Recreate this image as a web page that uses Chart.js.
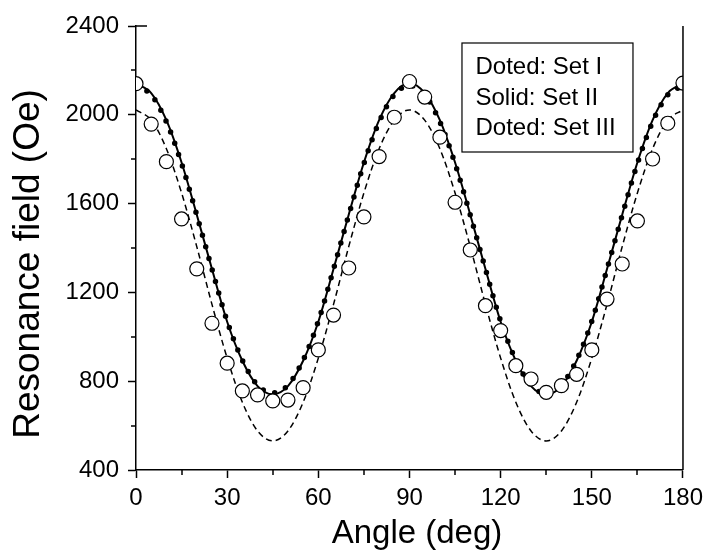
<!DOCTYPE html>
<html>
<head>
<meta charset="utf-8">
<script src="https://cdn.jsdelivr.net/npm/chart.js@4"></script>
<style>
  html, body { margin: 0; padding: 0; background: #fff; }
  canvas { display: block; }
</style>
</head>
<body>
<canvas id="resonanceChart" width="709" height="552"></canvas>
<script>
// angle in degrees, one value every 5 deg
const angles = [0, 5, 10, 15, 20, 25, 30, 35, 40, 45, 50, 55, 60, 65, 70, 75, 80, 85, 90,
    95, 100, 105, 110, 115, 120, 125, 130, 135, 140, 145, 150, 155, 160, 165, 170, 175, 180];

// measured points (open circles)
const measured = [2140, 1958, 1789, 1531, 1306, 1061, 881, 756, 738, 711, 715, 771, 941, 1098, 1310, 1540, 1812, 1989, 2150,
    2080, 1899, 1606, 1391, 1140, 1028, 870, 810, 750, 780, 831, 941, 1170, 1328, 1522, 1801, 1962, 2143];

// fitted curves
const setI = [2130, 2090, 1968, 1780, 1548, 1305, 1070, 895, 782, 748, 782, 895, 1070, 1305, 1548, 1780, 1968, 2090, 2132,
    2090, 1968, 1780, 1548, 1305, 1070, 895, 782, 746, 782, 895, 1070, 1305, 1548, 1780, 1968, 2090, 2130];
const setII = [2140, 2098, 1976, 1785, 1550, 1305, 1068, 892, 778, 741, 778, 892, 1068, 1305, 1550, 1785, 1976, 2098, 2142,
    2098, 1976, 1785, 1550, 1305, 1068, 892, 778, 740, 778, 892, 1068, 1305, 1550, 1785, 1976, 2098, 2140];
const setIII = [2022, 1976, 1847, 1648, 1406, 1146, 904, 705, 576, 531, 576, 705, 904, 1146, 1406, 1648, 1847, 1976, 2022,
    1976, 1847, 1648, 1406, 1146, 904, 705, 576, 531, 576, 705, 904, 1146, 1406, 1648, 1847, 1976, 2022];

const xMinorTicks = [15, 45, 75, 105, 135, 165];
const yMinorTicks = [600, 1000, 1400, 1800, 2200];
const legendLines = ['Doted: Set I', 'Solid: Set II', 'Doted: Set III'];
const xTitle = 'Angle (deg)';
const yTitle = 'Resonance field (Oe)';

const FONT = "'Liberation Sans', Arial, sans-serif";
Chart.defaults.font.family = FONT;
Chart.defaults.color = '#000';

const toPoints = values => values.map((v, i) => ({ x: angles[i], y: v }));

// right frame line, minor ticks, axis titles and the text box
const frameAndLegend = {
    id: 'frameAndLegend',
    afterDraw(chart) {
        const { ctx, chartArea: area, scales: { x, y } } = chart;
        ctx.save();
        ctx.strokeStyle = '#000';
        ctx.lineWidth = 1.5;
        ctx.beginPath();
        ctx.moveTo(area.right, area.top);
        ctx.lineTo(area.right, area.bottom);
        xMinorTicks.forEach(v => {
            const px = Math.round(x.getPixelForValue(v));
            ctx.moveTo(px, area.bottom);
            ctx.lineTo(px, area.bottom + 5);
        });
        yMinorTicks.forEach(v => {
            const py = Math.round(y.getPixelForValue(v));
            ctx.moveTo(area.left, py);
            ctx.lineTo(area.left - 5, py);
        });
        ctx.moveTo(area.left, area.top);
        ctx.lineTo(area.left + 11, area.top);
        ctx.stroke();

        // text box
        const boxLeft = area.right - 221;
        const boxTop = area.top + 17;
        ctx.lineWidth = 1.2;
        ctx.strokeRect(boxLeft, boxTop, 171, 109);
        ctx.fillStyle = '#000';
        ctx.font = '24px ' + FONT;
        ctx.textBaseline = 'alphabetic';
        legendLines.forEach((txt, i) => {
            ctx.fillText(txt, boxLeft + 13.5, boxTop + 31 + i * 30.7);
        });

        // axis titles
        ctx.textAlign = 'center';
        ctx.font = '33px ' + FONT;
        ctx.fillText(xTitle, area.left + 281, 543);
        ctx.translate(39, area.top + 238);
        ctx.rotate(-Math.PI / 2);
        ctx.font = '37px ' + FONT;
        ctx.fillText(yTitle, 0, 0);
        ctx.restore();
    }
};

const ctx = document.getElementById('resonanceChart').getContext('2d');
new Chart(ctx, {
    type: 'line',
    data: {
        datasets: [
            {
                label: 'Experiment',
                data: toPoints(measured),
                showLine: false,
                pointRadius: 7,
                pointBorderWidth: 1.2,
                pointBorderColor: '#000',
                pointBackgroundColor: '#fff',
                order: 0
            },
            {
                label: 'Set I',
                data: toPoints(setI),
                borderColor: '#000',
                borderWidth: 5.5,
                borderDash: [0, 12],
                borderCapStyle: 'round',
                pointRadius: 0,
                cubicInterpolationMode: 'monotone',
                order: 1
            },
            {
                label: 'Set II',
                data: toPoints(setII),
                borderColor: '#000',
                borderWidth: 2,
                pointRadius: 0,
                cubicInterpolationMode: 'monotone',
                order: 2
            },
            {
                label: 'Set III',
                data: toPoints(setIII),
                borderColor: '#000',
                borderWidth: 1.5,
                borderDash: [6, 4],
                pointRadius: 0,
                cubicInterpolationMode: 'monotone',
                order: 3
            }
        ]
    },
    options: {
        responsive: false,
        animation: false,
        clip: 0,
        layout: { padding: { top: 26, right: 26, left: 0, bottom: 0 } },
        scales: {
            x: {
                type: 'linear',
                min: 0,
                max: 180,
                ticks: { stepSize: 30, font: { size: 24 }, color: '#000', padding: 6, maxRotation: 0,
                    callback: v => String(v) },
                grid: { drawOnChartArea: false, tickLength: 8, tickColor: '#000', tickWidth: 1.5 },
                border: { display: true, color: '#000', width: 1.5 },
                afterFit: scale => { scale.height = 82; }
            },
            y: {
                min: 400,
                max: 2400,
                ticks: { stepSize: 400, font: { size: 24 }, color: '#000', padding: 9,
                    callback: v => String(v) },
                grid: { drawOnChartArea: false, tickLength: 8, tickColor: '#000', tickWidth: 1.5 },
                border: { display: true, color: '#000', width: 1.5 },
                afterFit: scale => { scale.width = 136; }
            }
        },
        plugins: {
            legend: { display: false },
            tooltip: { enabled: false }
        }
    },
    plugins: [frameAndLegend]
});
</script>
</body>
</html>
